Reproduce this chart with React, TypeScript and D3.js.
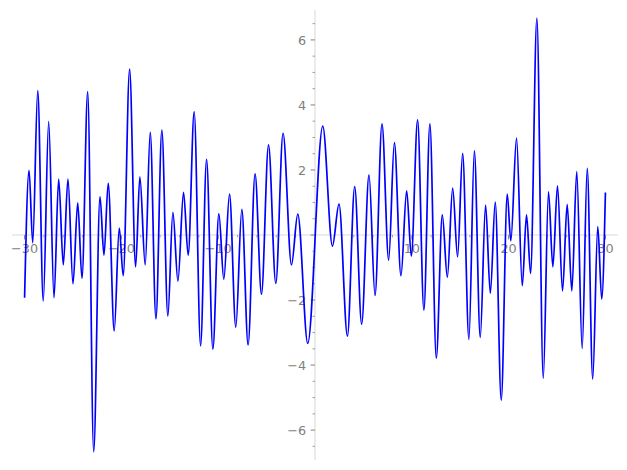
import React from "react";
import * as d3 from "d3";

// Turning points of the curve (x, y)
const xs = [
  -30.0, -29.54, -29.16, -28.64, -28.07, -27.51, -26.96, -26.48, -26.0, -25.52,
  -25.0, -24.51, -24.07, -23.48, -22.86, -22.21, -21.8, -21.36, -20.74, -20.22,
  -19.81, -19.15, -18.53, -18.09, -17.54, -17.02, -16.43, -15.82, -15.2, -14.68,
  -14.16, -13.58, -13.1, -12.48, -11.82, -11.2, -10.55, -9.93, -9.42, -8.83,
  -8.18, -7.56, -6.91, -6.19, -5.53, -4.8, -4.05, -3.3, -2.43, -1.78,
  -0.75, 0.8, 1.8, 2.48, 3.35, 4.1, 4.82, 5.58, 6.2, 6.92,
  7.61, 8.2, 8.88, 9.47, 9.95, 10.6, 11.25, 11.87, 12.53, 13.15,
  13.67, 14.22, 14.73, 15.25, 15.9, 16.46, 17.07, 17.62, 18.11, 18.62,
  19.24, 19.86, 20.23, 20.82, 21.41, 21.85, 22.27, 22.92, 23.58, 24.12,
  24.57, 25.05, 25.57, 26.05, 26.53, 27.04, 27.6, 28.12, 28.69, 29.21,
  29.62, 30.0,
];
const ys = [
  -1.93, 1.99, -0.24, 4.44, -2.03, 3.49, -1.93, 1.72, -0.92, 1.72,
  -1.5, 0.99, -1.33, 4.41, -6.67, 1.18, -0.62, 1.59, -2.95, 0.21,
  -1.25, 5.1, -0.98, 1.79, -0.92, 3.16, -2.58, 3.23, -2.49, 0.7,
  -1.42, 1.31, -0.62, 3.79, -3.41, 2.33, -3.51, 0.65, -1.36, 1.26,
  -2.84, 0.79, -3.38, 1.88, -1.82, 2.77, -1.49, 3.13, -0.92, 0.64,
  -3.33, 3.35, -0.34, 0.95, -3.11, 1.49, -2.74, 1.85, -1.86, 3.42,
  -0.77, 2.84, -1.25, 1.36, -0.65, 3.54, -2.31, 3.42, -3.79, 0.62,
  -1.3, 1.44, -0.67, 2.51, -3.21, 2.59, -3.15, 0.92, -1.79, 1.01,
  -5.08, 1.26, -0.18, 2.98, -1.56, 0.62, -1.18, 6.67, -4.41, 1.33,
  -0.98, 1.51, -1.72, 0.94, -1.72, 1.95, -3.49, 2.05, -4.43, 0.26,
  -1.97, 1.31,
];

const xMajor = [-30, -20, -10, 10, 20, 30];
const xMinor = [-28, -26, -24, -22, -18, -16, -14, -12, -8, -6, -4, -2, 2, 4, 6, 8, 12, 14, 16, 18, 22, 24, 26, 28];
const yMajor = [-6, -4, -2, 0, 2, 4, 6];
const yLabels = [-6, -4, -2, 2, 4, 6];
const yMinor = d3.range(-13, 14).map((k) => k * 0.5).filter((v) => Math.abs(v % 2) !== 0);

const W = 627;
const H = 470;
const xDomain = [-31.3, 31.3];
const yDomain = [-6.92, 6.92];

const fmt = (v: number) => (v < 0 ? "\u2212" + Math.abs(v) : String(v));

export default function App() {
  const x = d3.scaleLinear().domain(xDomain).range([12, 618]);
  const y = d3.scaleLinear().domain(yDomain).range([460, 10]);
  const pts: [number, number][] = xs.map((v, i) => [v, ys[i]]);
  const line = d3
    .line<[number, number]>()
    .x((d) => x(d[0]))
    .y((d) => y(d[1]))
    .curve(d3.curveMonotoneX);

  const x0 = x(0);
  const y0 = y(0);
  const tickCol = "#808080";
  const font = "DejaVu Sans";
  const fs = 12.8;
  const maj = 4.4;
  const mnr = 2.5;

  return (
    <svg
      width={W}
      height={H}
      style={{ position: "absolute", left: 0, top: 0, background: "#fff" }}
    >
      {/* axis lines */}
      <line x1={x(xDomain[0])} x2={x(xDomain[1])} y1={y0} y2={y0} stroke="#e6e6e6" strokeWidth={1.6} />
      <line x1={x0} x2={x0} y1={y(yDomain[1])} y2={y(yDomain[0])} stroke="#e6e6e6" strokeWidth={1.6} />

      {/* x ticks */}
      {xMinor.map((t) => (
        <line key={"xm" + t} x1={x(t)} x2={x(t)} y1={y0} y2={y0 + mnr} stroke={tickCol} strokeWidth={0.75} />
      ))}
      {xMajor.map((t) => (
        <line key={"xM" + t} x1={x(t)} x2={x(t)} y1={y0} y2={y0 + maj} stroke={tickCol} strokeWidth={1} />
      ))}
      {xMajor.map((t) => (
        <text
          key={"xl" + t}
          x={x(t)}
          y={y0 + maj + 4.4 + 9.3}
          textAnchor="middle"
          fontFamily={font}
          fontSize={fs}
          fill={tickCol}
        >
          {fmt(t)}
        </text>
      ))}

      {/* y ticks */}
      {yMinor.map((t) => (
        <line key={"ym" + t} x1={x0 - mnr} x2={x0} y1={y(t)} y2={y(t)} stroke={tickCol} strokeWidth={0.75} />
      ))}
      {yMajor.map((t) => (
        <line key={"yM" + t} x1={x0 - maj} x2={x0} y1={y(t)} y2={y(t)} stroke={tickCol} strokeWidth={1} />
      ))}
      {yLabels.map((t) => (
        <text
          key={"yl" + t}
          x={x0 - maj - 4.4}
          y={y(t) + 4.6}
          textAnchor="end"
          fontFamily={font}
          fontSize={fs}
          fill={tickCol}
        >
          {fmt(t)}
        </text>
      ))}

      {/* curve */}
      <path d={line(pts) || ""} fill="none" stroke="#0000ff" strokeWidth={1.7} strokeLinejoin="round" />
    </svg>
  );
}
